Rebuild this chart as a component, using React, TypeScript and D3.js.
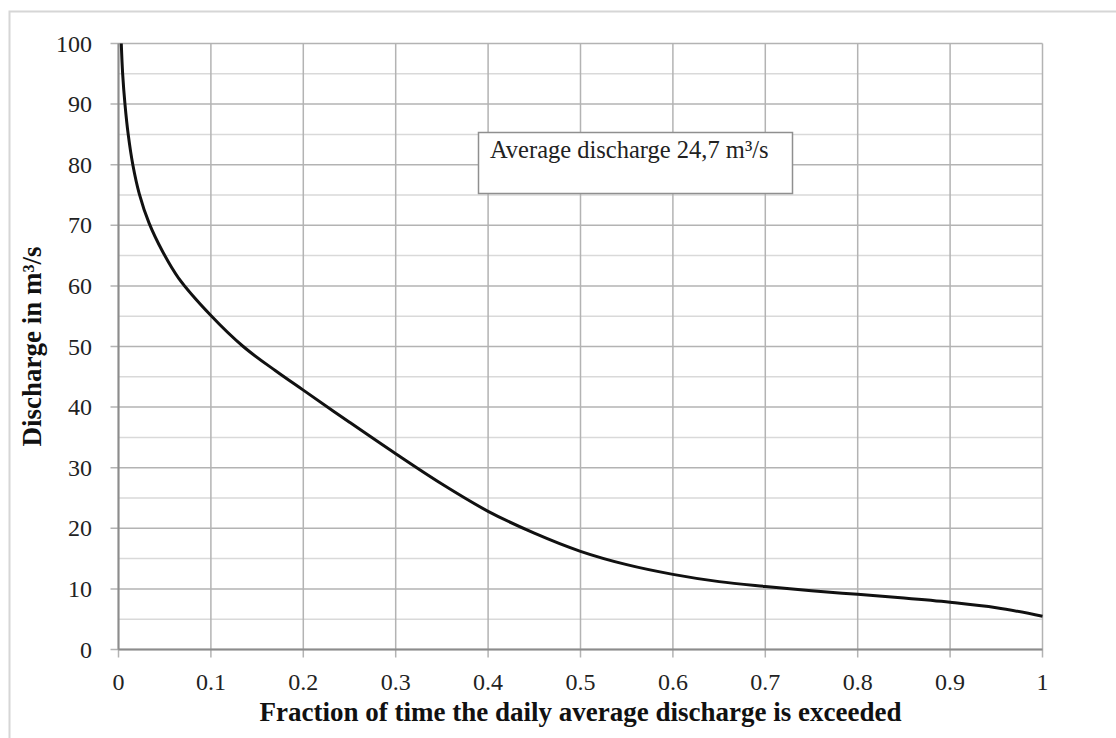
import React from "react";
import * as d3 from "d3";

// flow duration curve
const fractions = [
  0.003, 0.0045, 0.007, 0.0105, 0.0155, 0.0225, 0.033, 0.048, 0.065, 0.0995,
  0.135, 0.17, 0.2, 0.25, 0.3, 0.35, 0.4, 0.45, 0.5, 0.55, 0.6, 0.65,
  0.7, 0.75, 0.8, 0.85, 0.9, 0.95, 1.0,
];
const discharge = [
  100, 95, 90, 85, 80, 75.2, 70.4, 65.6, 61.3, 55.2,
  50, 46, 42.8, 37.5, 32.3, 27.3, 22.8, 19.2, 16.2, 14, 12.4, 11.2,
  10.4, 9.7, 9.1, 8.5, 7.8, 6.9, 5.5,
];
const xTicks = [0, 0.1, 0.2, 0.3, 0.4, 0.5, 0.6, 0.7, 0.8, 0.9, 1];
const yTicks = [0, 10, 20, 30, 40, 50, 60, 70, 80, 90, 100];
const yMinor = [5, 15, 25, 35, 45, 55, 65, 75, 85, 95];

const xTitle = "Fraction of time the daily average discharge is exceeded";
const yTitle = "Discharge in m³/s";
const note = "Average discharge 24,7 m³/s";

const W = 1116;
const H = 738;
const margin = { left: 118.5, right: 1042.5, top: 43.5, bottom: 649.5 };
const serif = "'Liberation Serif', 'Times New Roman', serif";

export default function App() {
  const x = d3.scaleLinear().domain([0, 1]).range([margin.left, margin.right]);
  const y = d3.scaleLinear().domain([0, 100]).range([margin.bottom, margin.top]);

  const pts: [number, number][] = fractions.map((f, i) => [f, discharge[i]]);
  const line = d3
    .line<[number, number]>()
    .x((d) => x(d[0]))
    .y((d) => y(d[1]))
    .curve(d3.curveCatmullRom.alpha(0.5));

  const fmtX = (v: number) => (v === 0 || v === 1 ? String(v) : v.toFixed(1));

  return (
    <svg
      width={W}
      height={H}
      style={{ position: "absolute", left: 0, top: 0, background: "#fff" }}
    >
      <rect x={9.5} y={11.5} width={1125} height={745} fill="#fff" stroke="#d6d6d6" strokeWidth={2} />

      {/* minor horizontal grid */}
      {yMinor.map((v) => (
        <line key={"m" + v} x1={x(0)} x2={x(1)} y1={y(v)} y2={y(v)} stroke="#d9d9d9" strokeWidth={1.5} />
      ))}
      {/* major horizontal grid + ticks */}
      {yTicks.map((v) => (
        <line key={"h" + v} x1={x(0) - 8} x2={x(1)} y1={y(v)} y2={y(v)} stroke="#b3b3b3" strokeWidth={1.5} />
      ))}
      {/* vertical grid + ticks */}
      {xTicks.map((v) => (
        <line key={"v" + v} x1={x(v)} x2={x(v)} y1={y(100)} y2={y(0) + 8} stroke="#b3b3b3" strokeWidth={1.5} />
      ))}
      {/* axes */}
      <line x1={x(0)} x2={x(0)} y1={y(100)} y2={y(0)} stroke="#8c8c8c" strokeWidth={2} />
      <line x1={x(0)} x2={x(1)} y1={y(0)} y2={y(0)} stroke="#8c8c8c" strokeWidth={2} />

      {/* tick labels */}
      {yTicks.map((v) => (
        <text key={"yl" + v} x={92} y={y(v) + 8} textAnchor="end" fontFamily={serif} fontSize={24} fill="#222">
          {v}
        </text>
      ))}
      {xTicks.map((v) => (
        <text key={"xl" + v} x={x(v)} y={690} textAnchor="middle" fontFamily={serif} fontSize={24} fill="#222">
          {fmtX(v)}
        </text>
      ))}

      {/* axis titles */}
      <text
        x={(margin.left + margin.right) / 2}
        y={721}
        textAnchor="middle"
        fontFamily={serif}
        fontSize={27}
        fontWeight="bold"
        fill="#111"
      >
        {xTitle}
      </text>
      <text
        transform={`translate(41,${(margin.top + margin.bottom) / 2}) rotate(-90)`}
        textAnchor="middle"
        fontFamily={serif}
        fontSize={27}
        fontWeight="bold"
        fill="#111"
      >
        {yTitle}
      </text>

      {/* curve */}
      <path d={line(pts) ?? ""} fill="none" stroke="#111" strokeWidth={3} strokeLinejoin="round" />

      {/* annotation */}
      <rect x={478.5} y={132.5} width={314} height={61} fill="#fff" stroke="#8f8f8f" strokeWidth={1.5} />
      <text x={490} y={158} fontFamily={serif} fontSize={24.5} fill="#222">
        {note}
      </text>
    </svg>
  );
}
